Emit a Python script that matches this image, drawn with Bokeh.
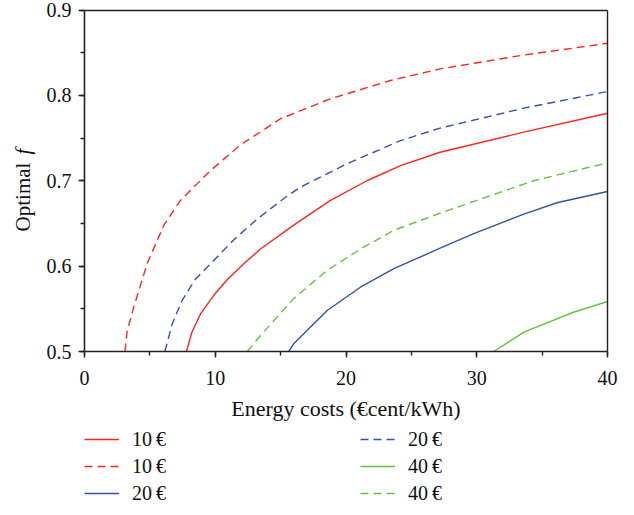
import math
from bokeh.plotting import figure
from bokeh.models import (Range1d, Legend, LegendItem, Label, SingleIntervalTicker,
                          LinearAxis, FixedTicker)
from bokeh.embed import file_html
from bokeh.resources import INLINE

# ---- data ----
rs_x = [7.8, 8.2, 8.87, 10.0, 10.91, 12.2, 13.46, 16.0, 18.81, 21.6, 24.17, 27.2, 33.6, 40.0]
rs_y = [0.5, 0.522, 0.544, 0.568, 0.584, 0.603, 0.620, 0.648, 0.677, 0.700, 0.7178, 0.7334, 0.757, 0.779]

rd_x = [3.1, 3.26, 3.77, 4.79, 6.07, 7.34, 9.64, 11.93, 14.99, 18.8, 23.4, 27.2, 33.5, 40.0]
rd_y = [0.5, 0.524, 0.552, 0.603, 0.648, 0.677, 0.712, 0.742, 0.7726, 0.796, 0.8174, 0.831, 0.847, 0.861]

bs_x = [15.62, 16.0, 18.56, 21.1, 23.66, 27.2, 29.77, 33.6, 36.2, 40.0]
bs_y = [0.5, 0.509, 0.548, 0.5753, 0.597, 0.621, 0.638, 0.661, 0.6745, 0.6874]

bd_x = [6.15, 6.7, 7.47, 8.49, 10.1, 11.5, 13.2, 15.37, 16.52, 20.09, 24.17, 27.2, 33.6, 40.0]
bd_y = [0.5, 0.532, 0.56, 0.585, 0.610, 0.632, 0.655, 0.6807, 0.6925, 0.72, 0.747, 0.7616, 0.785, 0.8045]

gs_x = [31.3, 33.6, 37.4, 40.0]
gs_y = [0.5, 0.5226, 0.546, 0.5586]

gd_x = [12.45, 13.46, 16.0, 18.56, 21.1, 23.66, 27.2, 30.0, 34.36, 40.0]
gd_y = [0.5, 0.5187, 0.562, 0.595, 0.620, 0.642, 0.662, 0.677, 0.700, 0.721]

legend_labels = ["10\u2009€", "10\u2009€", "20\u2009€", "20\u2009€", "40\u2009€", "40\u2009€"]
x_ticks = [0, 10, 20, 30, 40]
y_ticks = [0.5, 0.6, 0.7, 0.8, 0.9]
X_MIN, X_MAX = 0, 40
Y_MIN, Y_MAX = 0.5, 0.9

RED = "#ff2424"
BLUE = "#3552a6"
GREEN = "#6cbf45"
FONT = "Liberation Serif"
INK = "#222222"

# ---- layout (pixels) ----
W, H = 626, 507
FL, FR, FT, FB = 84, 607, 9.5, 351          # plot box edges in pixels
sx = (FR - FL) / (X_MAX - X_MIN)
sy = (FB - FT) / (Y_MAX - Y_MIN)
xr = Range1d(X_MIN - FL / sx, X_MAX + (W - FR) / sx)
yr = Range1d(Y_MIN - (H - FB) / sy, Y_MAX + FT / sy)

p = figure(width=W, height=H, output_backend="svg", toolbar_location=None,
           x_range=xr, y_range=yr, min_border=0, x_axis_type=None, y_axis_type=None)
p.xgrid.visible = False
p.ygrid.visible = False
p.outline_line_color = None
p.background_fill_color = "white"
p.border_fill_color = "white"


def style_axis(ax):
    ax.axis_line_color = INK
    ax.axis_line_width = 1.6
    ax.major_tick_line_color = INK
    ax.minor_tick_line_color = INK
    ax.major_tick_line_width = 1.4
    ax.minor_tick_line_width = 1.4
    ax.major_tick_out = 6
    ax.major_tick_in = 0
    ax.minor_tick_out = 4
    ax.minor_tick_in = 0
    ax.major_label_text_font = FONT
    ax.major_label_text_font_size = "20px"
    ax.major_label_text_color = "#111111"
    ax.axis_label_text_font = FONT
    ax.axis_label_text_font_size = "22px"
    ax.axis_label_text_font_style = "normal"
    ax.axis_label_text_color = "#111111"


xaxis = LinearAxis(fixed_location=Y_MIN, bounds=(X_MIN, X_MAX),
                   ticker=SingleIntervalTicker(interval=10, num_minor_ticks=2),
                   axis_label="Energy costs (€cent/kWh)")
style_axis(xaxis)
xaxis.major_label_standoff = 13
xaxis.axis_label_standoff = 8
xaxis.major_label_overrides = {t: str(t) for t in x_ticks}
p.add_layout(xaxis, "below")

yaxis = LinearAxis(fixed_location=X_MIN, bounds=(Y_MIN, Y_MAX),
                   ticker=SingleIntervalTicker(interval=0.1, num_minor_ticks=2))
style_axis(yaxis)
yaxis.major_label_standoff = 7
yaxis.major_label_overrides = {t: f"{t:.1f}" for t in y_ticks}
p.add_layout(yaxis, "left")

# top and right border lines of the box
top = LinearAxis(fixed_location=Y_MAX, bounds=(X_MIN, X_MAX), ticker=FixedTicker(ticks=[]))
right = LinearAxis(fixed_location=X_MAX, bounds=(Y_MIN, Y_MAX), ticker=FixedTicker(ticks=[]))
for ax in (top, right):
    ax.axis_line_color = INK
    ax.axis_line_width = 1.4
    ax.major_tick_line_color = None
    ax.minor_tick_line_color = None
p.add_layout(top, "above")
p.add_layout(right, "right")

lw = 1.4
dash = "8 5"
r1 = p.line(rs_x, rs_y, line_color=RED, line_width=lw)
r2 = p.line(rd_x, rd_y, line_color=RED, line_width=lw, line_dash=dash)
r3 = p.line(bs_x, bs_y, line_color=BLUE, line_width=lw)
r4 = p.line(bd_x, bd_y, line_color=BLUE, line_width=lw, line_dash=dash)
r5 = p.line(gs_x, gs_y, line_color=GREEN, line_width=lw)
r6 = p.line(gd_x, gd_y, line_color=GREEN, line_width=lw, line_dash=dash)

renderers = [r1, r2, r3, r4, r5, r6]
items = [LegendItem(label=lab, renderers=[r]) for lab, r in zip(legend_labels, renderers)]
legend = Legend(items=items, orientation="vertical", nrows=3, location=(FL, 2.5),
                label_text_font=FONT, label_text_font_size="20px", label_text_color="#111111",
                glyph_width=35, glyph_height=20, label_height=20, label_width=224,
                label_standoff=13, spacing=4, padding=1, margin=0,
                border_line_color=None, background_fill_alpha=0)
p.add_layout(legend)

# y-axis title with italic f
lab_x = X_MIN - (FL - 22) / sx
p.add_layout(Label(x=lab_x, y=Y_MAX - (196.5 - FT) / sy, text="Optimal", angle=math.pi / 2,
                   text_font=FONT, text_font_size="21px", text_color="#111111",
                   text_align="center", text_baseline="middle"))
p.add_layout(Label(x=lab_x, y=Y_MAX - (151 - FT) / sy, text="f", angle=math.pi / 2,
                   text_font=FONT, text_font_size="21px", text_font_style="italic",
                   text_color="#111111", text_align="center", text_baseline="middle"))

open("out.html", "w").write(file_html(p, INLINE))
